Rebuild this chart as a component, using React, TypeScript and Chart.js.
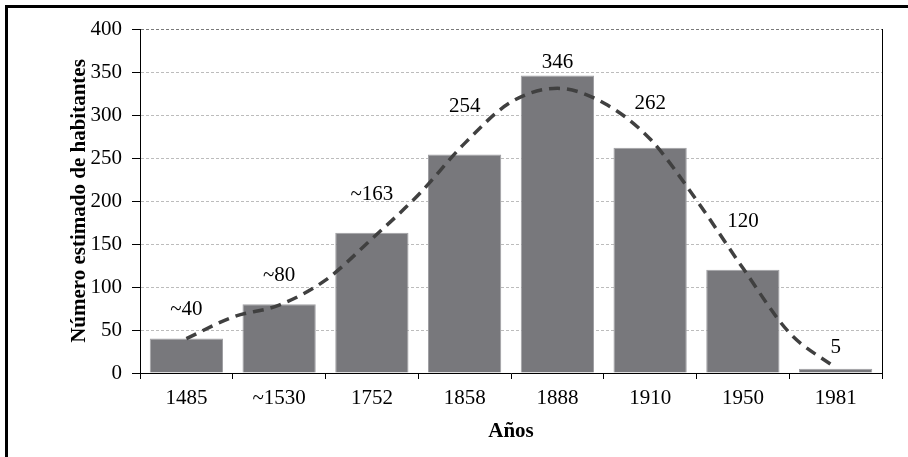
import React, { useEffect, useRef } from "react";
import { Chart, registerables } from "chart.js";

Chart.register(...registerables);

const categories = ["1485", "~1530", "1752", "1858", "1888", "1910", "1950", "1981"];
const habitantes = [40, 80, 163, 254, 346, 262, 120, 5];
const barLabels = ["~40", "~80", "~163", "254", "346", "262", "120", "5"];
const yTicks = [0, 50, 100, 150, 200, 250, 300, 350, 400];

// dashed trend curve (position in category units, value)
const trendPos = [0, 0.5, 1, 1.5, 2, 2.5, 3, 3.5, 4, 4.5, 5, 5.5, 6, 6.5, 7];
const trendValues = [40, 65, 79, 108, 156, 207, 267, 315, 331, 314, 272, 201, 122, 47, 6];

// label lift above each bar top, in px (to keep clear of the trend line)
const LABEL_LIFT_PX = [29, 29, 38, 48, 13, 44, 48, 21];

const FONT = '"Liberation Serif", "Times New Roman", serif';

export default function App() {
  const ref = useRef<HTMLCanvasElement | null>(null);

  useEffect(() => {
    if (!ref.current) return;

    const framePlugin = {
      id: "frame",
      afterDraw(chart: any) {
        const ctx = chart.ctx;
        const a = chart.chartArea;
        ctx.save();
        ctx.strokeStyle = "#000";
        ctx.lineWidth = 1;
        ctx.beginPath();
        ctx.moveTo(Math.round(a.right) + 0.5, a.top);
        ctx.lineTo(Math.round(a.right) + 0.5, a.bottom);
        ctx.stroke();
        ctx.lineWidth = 3;
        ctx.beginPath();
        ctx.moveTo(5, 6.5);
        ctx.lineTo(chart.width + 5, 6.5);
        ctx.moveTo(6.5, 5);
        ctx.lineTo(6.5, chart.height + 5);
        ctx.stroke();
        ctx.restore();
      },
    };

    const labelPlugin = {
      id: "barLabels",
      afterDatasetsDraw(chart: any) {
        const ctx = chart.ctx;
        const meta = chart.getDatasetMeta(0);
        ctx.save();
        ctx.font = `21px ${FONT}`;
        ctx.fillStyle = "#000";
        ctx.textAlign = "center";
        ctx.textBaseline = "middle";
        meta.data.forEach((bar: any, i: number) => {
          ctx.fillText(barLabels[i], bar.x, bar.y - LABEL_LIFT_PX[i]);
        });
        ctx.restore();
      },
    };

    const chart = new Chart(ref.current, {
      type: "bar",
      data: {
        labels: categories,
        datasets: [
          {
            type: "bar",
            xAxisID: "x",
            yAxisID: "y",
            data: habitantes,
            backgroundColor: "#78787c",
            borderColor: "#a0a0a4",
            borderWidth: 1,
            categoryPercentage: 1,
            barPercentage: 0.79,
            grouped: false,
            order: 2,
          } as any,
          {
            type: "line",
            xAxisID: "xt",
            yAxisID: "y",
            data: trendPos.map((p, i) => ({ x: p, y: trendValues[i] })),
            borderColor: "#404040",
            borderWidth: 3.5,
            borderDash: [11, 7],
            pointRadius: 0,
            fill: false,
            cubicInterpolationMode: "monotone",
            order: 1,
          } as any,
        ],
      },
      options: {
        responsive: false,
        animation: false,
        devicePixelRatio: 1,
        layout: { padding: { left: 60, right: 26, top: 29, bottom: 0 } },
        plugins: {
          legend: { display: false },
          tooltip: { enabled: false },
        },
        scales: {
          x: {
            type: "category",
            offset: true,
            grid: {
              offset: true,
              drawOnChartArea: false,
              drawTicks: true,
              tickLength: 6,
              tickColor: "#000",
              color: "#000",
            },
            border: { display: true, color: "#000", width: 1 },
            ticks: {
              color: "#000",
              font: { family: FONT, size: 21 },
              padding: 7,
              maxRotation: 0,
              autoSkip: false,
            },
            title: {
              display: true,
              text: "Años",
              color: "#000",
              font: { family: FONT, size: 21, weight: "bold" },
              padding: { top: 0, bottom: 12.4 },
            },
            afterFit(scale: any) {
              scale.height = 84;
            },
          },
          xt: {
            type: "linear",
            axis: "x",
            position: "bottom",
            display: false,
            offset: false,
            grid: { offset: false },
            min: -0.5,
            max: 7.5,
          },
          y: {
            type: "linear",
            min: 0,
            max: 400,
            afterBuildTicks(scale: any) {
              scale.ticks = yTicks.map((v) => ({ value: v }));
            },
            grid: {
              color: (ctx: any) => (ctx.tick && ctx.tick.value === 400 ? "#7a7a7a" : "#bcbcbc"),
              lineWidth: 1,
              drawTicks: true,
              tickLength: 8,
              tickColor: "#000",
              tickBorderDash: [1, 0],
            },
            border: { display: true, color: "#000", width: 1, dash: [3, 2] },
            ticks: {
              color: "#000",
              font: { family: FONT, size: 21 },
              padding: 10,
            },
            title: {
              display: true,
              text: "Número estimado de habitantes",
              color: "#000",
              font: { family: FONT, size: 21, weight: "bold" },
              padding: { top: 7.4, bottom: 0 },
            },
            afterFit(scale: any) {
              scale.width = 80;
            },
          },
        },
      } as any,
      plugins: [labelPlugin, framePlugin],
    });

    return () => chart.destroy();
  }, []);

  return (
    <div style={{ position: "fixed", left: 0, top: 0, width: 908, height: 457, background: "#fff" }}>
      <canvas ref={ref} width={908} height={457} style={{ display: "block" }} />
    </div>
  );
}
